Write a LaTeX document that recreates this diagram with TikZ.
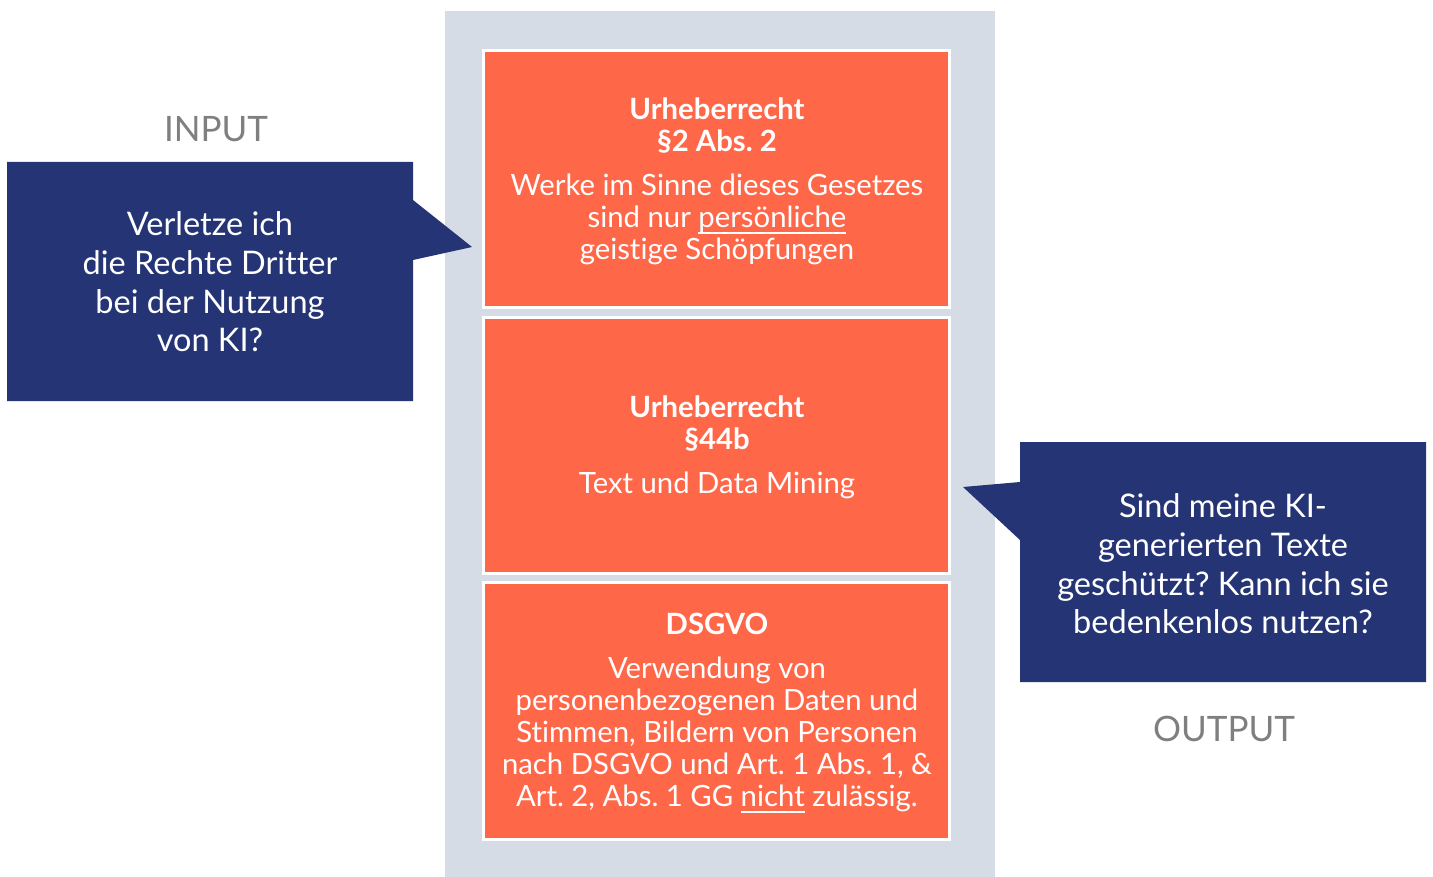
\documentclass[tikz,border=0pt]{standalone}
\usepackage{fontspec}
\setmainfont{Lato}[Ligatures=NoCommon]
\frenchspacing
\definecolor{panelgray}{HTML}{D6DCE5}
\definecolor{boxorange}{HTML}{FF6749}
\definecolor{navy}{HTML}{253475}
\definecolor{labelgray}{HTML}{7F7F7F}
\newcommand\myul[1]{\setbox0\hbox{#1}\rlap{\rule[-7pt]{\wd0}{1.8pt}}\box0\relax}
\tikzset{
  orangebox/.style={fill=boxorange, draw=white, line width=3pt},
  callout/.style={fill=navy, draw=none},
  boxtext/.style={text=white, align=center, inner sep=0pt, font=\fontsize{29.3}{32}\selectfont},
  calltext/.style={text=white, align=center, inner sep=0pt, font=\fontsize{32.5}{38.7}\selectfont},
  sidelabel/.style={text=labelgray, inner sep=0pt, anchor=base, font=\fontsize{35}{40}\selectfont}
}
\begin{document}
\begin{tikzpicture}[x=1pt,y=-1pt]
\useasboundingbox (0,0) rectangle (1433,877);
% panel
\fill[panelgray] (445,11) rectangle (995,877);
% orange boxes
\draw[orangebox] (483.5,50.5) rectangle (949.5,307.5);
\draw[orangebox] (483.5,317.5) rectangle (949.5,573.5);
\draw[orangebox] (483.5,582.5) rectangle (949.5,839.5);
\node[boxtext] (b1) at (717,181) {\textbf{Urheberrecht}\\\textbf{§2 Abs. 2}\\[12pt]Werke im Sinne dieses Gesetzes\\sind nur \myul{persönliche}\\geistige Schöpfungen};
\node[boxtext] (b2) at (717,447) {\textbf{Urheberrecht}\\\textbf{§44b}\\[12pt]Text und Data Mining};
\node[boxtext] (b3) at (717,713) {\textbf{DSGVO}\\[12pt]Verwendung von\\personenbezogenen Daten und\\Stimmen, Bildern von Personen\\nach DSGVO und Art. 1 Abs. 1, \&\\Art. 2, Abs. 1 GG \myul{nicht} zulässig.};
% left callout
\fill[callout] (7,162) -- (413,162) -- (413,200) -- (472,247) -- (413,260) -- (413,401) -- (7,401) -- cycle;
\node[calltext] (q1) at (210,282) {Verletze ich\\die Rechte Dritter\\bei der Nutzung\\von KI?};
% right callout
\fill[callout] (1020,442) -- (1426,442) -- (1426,682) -- (1020,682) -- (1020,540) -- (963,487) -- (1020,482) -- cycle;
\node[calltext] (q2) at (1223,564) {Sind meine KI-\\generierten Texte\\geschützt? Kann ich sie\\bedenkenlos nutzen?};
% labels
\node[sidelabel] (in) at (216,142) {INPUT};
\node[sidelabel] (out) at (1224,741) {OUTPUT};
\end{tikzpicture}
\end{document}
